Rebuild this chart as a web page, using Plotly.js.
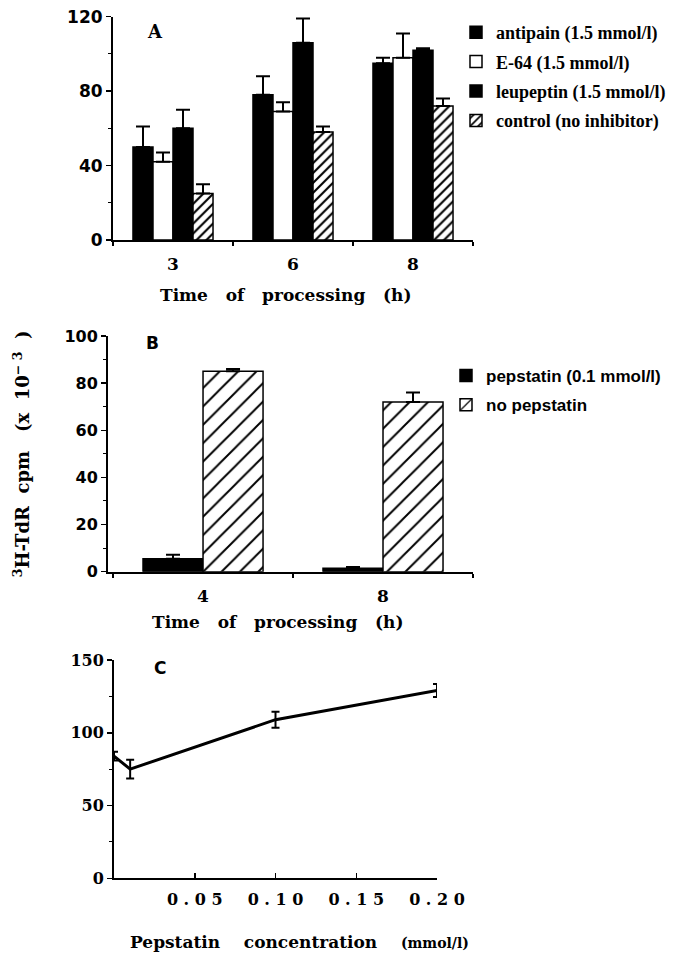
<!DOCTYPE html>
<html>
<head>
<meta charset="utf-8">
<script src="https://cdn.plot.ly/plotly-3.0.1.min.js"></script>
<style>html,body{margin:0;padding:0;background:#fff;}</style>
</head>
<body>
<div id="chart" style="width:678px;height:953px;"></div>
<script>
// Panel A data
const timesA = ["3", "6", "8"];
const antipain = [50, 78, 95];
const antipainErr = [11, 10, 3];
const e64 = [42, 69, 98];
const e64Err = [5, 5, 13];
const leupeptin = [60, 106, 102];
const leupeptinErr = [10, 13, 1];
const control = [25, 58, 72];
const controlErr = [5, 3, 4];
const yTicksA = [0, 40, 80, 120];

// Panel B data
const timesB = ["4", "8"];
const pepstatin = [5.5, 1.5];
const pepstatinErr = [1.7, 0.5];
const noPepstatin = [85, 72];
const noPepstatinErr = [1, 4];
const yTicksB = [0, 20, 40, 60, 80, 100];

// Panel C data
const concC = [0, 0.01, 0.10, 0.20];
const cpmC = [84, 75, 109, 129];
const cpmCErr = [3, 6.5, 5.5, 4.5];
const xTicksC = [0.05, 0.10, 0.15, 0.20];
const xTickLabelsC = ['0 . 0 5', '0 . 1 0', '0 . 1 5', '0 . 2 0'];
const yTicksC = [0, 50, 100, 150];

const W = 678, H = 953;
const px = v => v / W;
const py = v => 1 - v / H;
const bold = arr => arr.map(v => '<b>' + v + '</b>');

const SERIF = "DejaVu Serif";
const SANS = "DejaVu Sans";

function barErr(arr) {
  return {type: 'data', symmetric: false, array: arr, arrayminus: arr.map(() => 0),
          color: 'black', thickness: 2, width: 7};
}

const lineBlack = {color: 'black', width: 1.5};

const traces = [
  {type: 'bar', x: timesA, y: antipain, name: '<b>antipain (1.5 mmol/l)</b>', xaxis: 'x', yaxis: 'y',
   marker: {color: 'black', line: lineBlack}, error_y: barErr(antipainErr), legend: 'legend', legendgroup: 'a1'},
  {type: 'bar', x: timesA, y: e64, name: '<b>E-64 (1.5 mmol/l)</b>', xaxis: 'x', yaxis: 'y',
   marker: {color: 'white', line: lineBlack}, error_y: barErr(e64Err), legend: 'legend', legendgroup: 'a2'},
  {type: 'bar', x: timesA, y: leupeptin, name: '<b>leupeptin (1.5 mmol/l)</b>', xaxis: 'x', yaxis: 'y',
   marker: {color: 'black', line: lineBlack}, error_y: barErr(leupeptinErr), legend: 'legend', legendgroup: 'a3'},
  {type: 'bar', x: timesA, y: control, name: '<b>control (no inhibitor)</b>', xaxis: 'x', yaxis: 'y',
   marker: {color: 'white', line: lineBlack,
            pattern: {shape: '/', fgcolor: 'black', bgcolor: 'white', size: 7, solidity: 0.3}},
   error_y: barErr(controlErr), legend: 'legend', legendgroup: 'a4'},

  {type: 'bar', x: timesB, y: pepstatin, name: '<b>pepstatin (0.1 mmol/l)</b>', xaxis: 'x2', yaxis: 'y2',
   marker: {color: 'black', line: lineBlack}, error_y: barErr(pepstatinErr), legend: 'legend2', legendgroup: 'b1'},
  {type: 'bar', x: timesB, y: noPepstatin, name: '<b>no pepstatin</b>', xaxis: 'x2', yaxis: 'y2',
   marker: {color: 'white', line: lineBlack,
            pattern: {shape: '/', fgcolor: 'black', bgcolor: 'white', size: 13, solidity: 0.15}},
   error_y: barErr(noPepstatinErr), legend: 'legend2', legendgroup: 'b2'},

  {type: 'scatter', mode: 'lines', x: concC, y: cpmC, xaxis: 'x3', yaxis: 'y3', showlegend: false,
   line: {color: 'black', width: 3},
   error_y: {type: 'data', array: cpmCErr, color: 'black', thickness: 2, width: 4}}
];

const tickFontSans = {family: SANS, size: 17, color: 'black'};
const tickFontSerif = {family: SERIF, size: 17, color: 'black'};
const tickFontSerifC = {family: SERIF, size: 16, color: 'black'};

const layout = {
  width: W, height: H,
  margin: {l: 0, r: 0, t: 0, b: 0},
  paper_bgcolor: 'white', plot_bgcolor: 'white',
  showlegend: true,
  barmode: 'group',
  bargap: 0.333,
  bargroupgap: 0,
  xaxis: {domain: [px(113), px(473)], anchor: 'y', type: 'category', range: [-0.5, 2.5],
          tickvals: timesA, ticktext: bold(timesA),
          showline: true, linecolor: 'black', linewidth: 2, showgrid: false, zeroline: false,
          ticks: 'outside', tickson: 'boundaries', ticklen: 4, tickwidth: 1.5, tickcolor: 'black',
          tickfont: tickFontSerif, ticklabelstandoff: 8},
  yaxis: {domain: [py(240), py(16.7)], anchor: 'x', range: [0, 120],
          tickvals: yTicksA, ticktext: bold(yTicksA),
          showline: true, linecolor: 'black', linewidth: 2, showgrid: false, zeroline: false,
          ticks: 'outside', ticklen: 5, tickwidth: 1.5, tickcolor: 'black',
          minor: {ticks: 'outside', ticklen: 3, dtick: 20, tickcolor: 'black', tickwidth: 1},
          tickfont: tickFontSans, ticklabelstandoff: 0},

  xaxis2: {domain: [px(108), px(473)], anchor: 'y2', type: 'category', range: [-0.528, 1.5],
           tickvals: timesB, ticktext: bold(timesB),
           showline: true, linecolor: 'black', linewidth: 2, showgrid: false, zeroline: false,
           ticks: 'outside', tickson: 'boundaries', ticklen: 4, tickwidth: 1.5, tickcolor: 'black',
           tickfont: tickFontSerif, ticklabelstandoff: 8},
  yaxis2: {domain: [py(571.7), py(336)], anchor: 'x2', range: [0, 100],
           tickvals: yTicksB, ticktext: bold(yTicksB),
           showline: true, linecolor: 'black', linewidth: 2, showgrid: false, zeroline: false,
           ticks: 'outside', ticklen: 5, tickwidth: 1.5, tickcolor: 'black',
           minor: {ticks: 'outside', ticklen: 3, dtick: 10, tickcolor: 'black', tickwidth: 1},
           tickfont: {family: SANS, size: 16, color: 'black'}, ticklabelstandoff: 0,
           title: {text: '<b><sup>3</sup>H-TdR\u00a0\u00a0cpm\u00a0\u00a0\u00a0(x\u00a0\u00a010<sup>\u2212\u00a03</sup>\u00a0\u00a0)</b>',
                   font: {family: SERIF, size: 18, color: 'black'}, standoff: 30}},

  xaxis3: {domain: [px(114), px(437)], anchor: 'y3', range: [0, 0.2],
           tickvals: xTicksC, ticktext: bold(xTickLabelsC),
           showline: true, linecolor: 'black', linewidth: 2, showgrid: false, zeroline: false,
           ticks: 'inside', ticklen: 5, tickwidth: 1.5, tickcolor: 'black',
           tickfont: tickFontSerifC, ticklabelstandoff: 5},
  yaxis3: {domain: [py(878.3), py(660)], anchor: 'x3', range: [0, 150],
           tickvals: yTicksC, ticktext: bold(yTicksC),
           showline: true, linecolor: 'black', linewidth: 2, showgrid: false, zeroline: false,
           ticks: 'outside', ticklen: 5, tickwidth: 1.5, tickcolor: 'black',
           minor: {ticks: 'outside', ticklen: 3, dtick: 25, tickcolor: 'black', tickwidth: 1},
           tickfont: tickFontSerifC, ticklabelstandoff: 0},

  legend: {x: px(456), y: py(14), xanchor: 'left', yanchor: 'top', bgcolor: 'rgba(0,0,0,0)',
           font: {family: 'Liberation Serif', size: 18, color: 'black'},
           traceorder: 'grouped', tracegroupgap: 3, itemwidth: 30},
  legend2: {x: px(446), y: py(358), xanchor: 'left', yanchor: 'top', bgcolor: 'rgba(0,0,0,0)',
            font: {family: 'Liberation Sans', size: 17, color: 'black'},
            traceorder: 'grouped', tracegroupgap: 4, itemwidth: 30},

  annotations: [
    {text: '<b>A</b>', xref: 'paper', yref: 'paper', x: px(155), y: py(32), showarrow: false,
     xanchor: 'center', yanchor: 'middle',
     font: {family: SERIF, size: 18, color: 'black'}},
    {text: '<b>B</b>', xref: 'paper', yref: 'paper', x: px(152), y: py(343), showarrow: false,
     xanchor: 'center', yanchor: 'middle',
     font: {family: SANS, size: 17, color: 'black'}},
    {text: '<b>C</b>', xref: 'paper', yref: 'paper', x: px(160), y: py(668), showarrow: false,
     xanchor: 'center', yanchor: 'middle',
     font: {family: SANS, size: 17, color: 'black'}},
    {text: '<b>Time\u00a0\u00a0 of\u00a0\u00a0 processing\u00a0\u00a0 (h)</b>', xref: 'paper', yref: 'paper',
     x: px(285), y: py(295), showarrow: false, xanchor: 'center', yanchor: 'middle',
     font: {family: SERIF, size: 17, color: 'black'}},
    {text: '<b>Time\u00a0\u00a0 of\u00a0\u00a0 processing\u00a0\u00a0 (h)</b>', xref: 'paper', yref: 'paper',
     x: px(277), y: py(622), showarrow: false, xanchor: 'center', yanchor: 'middle',
     font: {family: SERIF, size: 17, color: 'black'}},
    {text: '<b>Pepstatin\u00a0\u00a0\u00a0 concentration\u00a0\u00a0\u00a0 <span style="font-size:14px">(mmol/l)</span></b>',
     xref: 'paper', yref: 'paper', x: px(299), y: py(942), showarrow: false,
     xanchor: 'center', yanchor: 'middle',
     font: {family: SERIF, size: 17, color: 'black'}}
  ]
};

Plotly.newPlot('chart', traces, layout, {staticPlot: true, displayModeBar: false});
</script>
</body>
</html>
